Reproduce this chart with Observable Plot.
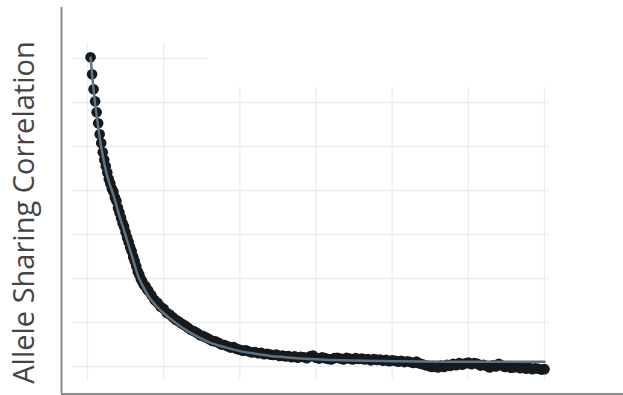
<!DOCTYPE html>
<html>
<head>
<meta charset="utf-8">
<script src="https://cdn.jsdelivr.net/npm/d3@7"></script>
<script src="https://cdn.jsdelivr.net/npm/@observablehq/plot@0.6"></script>
<style>
  html, body { margin: 0; padding: 0; background: #fff; }
  #chart svg { display: block; }
</style>
</head>
<body>
<div id="chart"></div>
<script>
// ---- data ----
const yLabel = "Allele Sharing Correlation";
const xTicks = [0, 50, 100, 150, 200, 250, 300];
const yTicks = [0, 0.1, 0.2, 0.3, 0.4, 0.5, 0.6, 0.7];

// observed points
const obsX = [
  2,3,4,5,6,7,8,9,10,11,12,13,14,15,16,17,18,19,20,21,22,23,24,25,26,27,28,29,30,31,32,33,34,35,36,37,38,39,40,
  42,44,46,48,50,52,54,56,58,60,62,64,66,68,70,72,74,76,78,80,82,84,86,88,90,92,94,96,98,100,
  102,104,106,108,110,112,114,116,118,120,122,124,126,128,130,132,134,136,138,140,142,144,146,148,150,
  152,154,156,158,160,162,164,166,168,170,172,174,176,178,180,182,184,186,188,190,192,194,196,198,200,
  202,204,206,208,210,212,214,216,218,220,222,224,226,228,230,232,234,236,238,240,242,244,246,248,250,
  252,254,256,258,260,262,264,266,268,270,272,274,276,278,280,282,284,286,288,290,292,294,296,298,300
];
const obsY = [
  0.703,0.664,0.630,0.603,0.578,0.553,0.528,0.508,0.487,0.470,0.455,0.441,0.426,0.416,0.404,0.397,0.384,0.376,0.361,0.350,
  0.338,0.326,0.318,0.305,0.293,0.283,0.271,0.262,0.249,0.239,0.228,0.216,0.209,0.199,0.193,0.186,0.183,0.176,0.172,
  0.162,0.151,0.145,0.136,0.131,0.122,0.118,0.112,0.106,0.102,0.097,0.093,0.088,0.083,0.080,0.076,0.071,0.069,0.066,0.062,
  0.058,0.057,0.054,0.050,0.049,0.046,0.043,0.044,0.040,0.038,
  0.036,0.037,0.034,0.032,0.033,0.030,0.031,0.028,0.029,0.027,0.026,0.027,0.024,0.025,0.023,0.024,0.021,0.023,0.020,0.022,
  0.021,0.019,0.023,0.025,0.020,
  0.018,0.021,0.019,0.017,0.016,0.019,0.020,0.018,0.016,0.020,0.018,0.016,0.019,0.017,0.018,0.016,0.017,0.014,0.017,0.015,
  0.016,0.013,0.015,0.012,0.014,
  0.013,0.011,0.013,0.010,0.012,0.010,0.008,0.011,0.007,0.005,0.003,0.001,-0.001,0.000,-0.002,0.002,-0.001,0.004,0.001,0.006,
  0.003,0.008,0.004,0.007,0.009,
  0.005,0.008,0.006,0.002,0.004,0.001,-0.002,0.003,0.000,0.006,0.002,-0.001,0.001,-0.003,-0.002,0.000,-0.004,-0.002,-0.005,-0.003,
  -0.006,-0.004,-0.005,-0.007,-0.006
];

// fitted curve
const fitX = [2,3,4,5,6,7,8,9,11,13,15,17,19,21,23,25,27,29,31,33.5,36,40,45,50,55,60,65,70,75,80,85,90,100,110,120,130,140,160,180,200,240,300];
const fitY = [0.702,0.665,0.628,0.597,0.570,0.545,0.521,0.499,0.462,0.432,0.410,0.390,0.366,0.342,0.320,0.298,0.275,0.253,0.230,0.203,0.185,0.160,0.138,0.121,0.107,0.094,0.082,0.072,0.063,0.055,0.049,0.044,0.035,0.029,0.024,0.021,0.018,0.015,0.013,0.012,0.011,0.011];

// frame extents (data units)
const axisX0 = -17.07, axisX1 = 352;
const axisY0 = -0.0625, axisY1 = 0.816;
const gridX0 = -9.2, gridX1 = 303.3, gridTopX1 = 78.8;
const gridY0 = -0.032, gridYHigh = 0.736, gridYLow = 0.634;

const points = obsX.map((x, i) => ({x, y: obsY[i]}));
const fit = fitX.map((x, i) => ({x, y: fitY[i]}));

const chart = Plot.plot({
  width: 623,
  height: 395,
  marginLeft: 61,
  marginRight: 0,
  marginTop: 7,
  marginBottom: 2,
  x: {domain: [0, 300], range: [87, 544], axis: null},
  y: {domain: [0, 0.7], range: [366, 58], axis: null},
  style: {background: "#fff"},
  marks: [
    Plot.ruleX(xTicks, {x: d => d, y1: gridY0, y2: d => d <= 50 ? gridYHigh : gridYLow, stroke: "#e8eef2", strokeWidth: 1.3}),
    Plot.ruleY(yTicks, {y: d => d, x1: gridX0, x2: d => d >= 0.7 ? gridTopX1 : gridX1, stroke: "#e8eef2", strokeWidth: 1.3}),
    Plot.ruleX([axisX0], {y1: axisY0, y2: axisY1, stroke: "#8c8c8c", strokeWidth: 2}),
    Plot.ruleY([axisY0], {x1: axisX0, x2: axisX1, stroke: "#8c8c8c", strokeWidth: 2}),
    Plot.dot(points, {x: "x", y: "y", r: 5.3, fill: "#151a1e", stroke: "none"}),
    Plot.line(fit, {x: "x", y: "y", stroke: "#5d7282", strokeWidth: 2.5, curve: "monotone-x"}),
    Plot.text([yLabel], {
      frameAnchor: "left", rotate: -90, dx: -37, dy: 12,
      fontSize: 29, fill: "#444", fontFamily: "Open Sans", lineAnchor: "middle", textAnchor: "middle"
    })
  ]
});
document.getElementById("chart").appendChild(chart);
</script>
</body>
</html>
